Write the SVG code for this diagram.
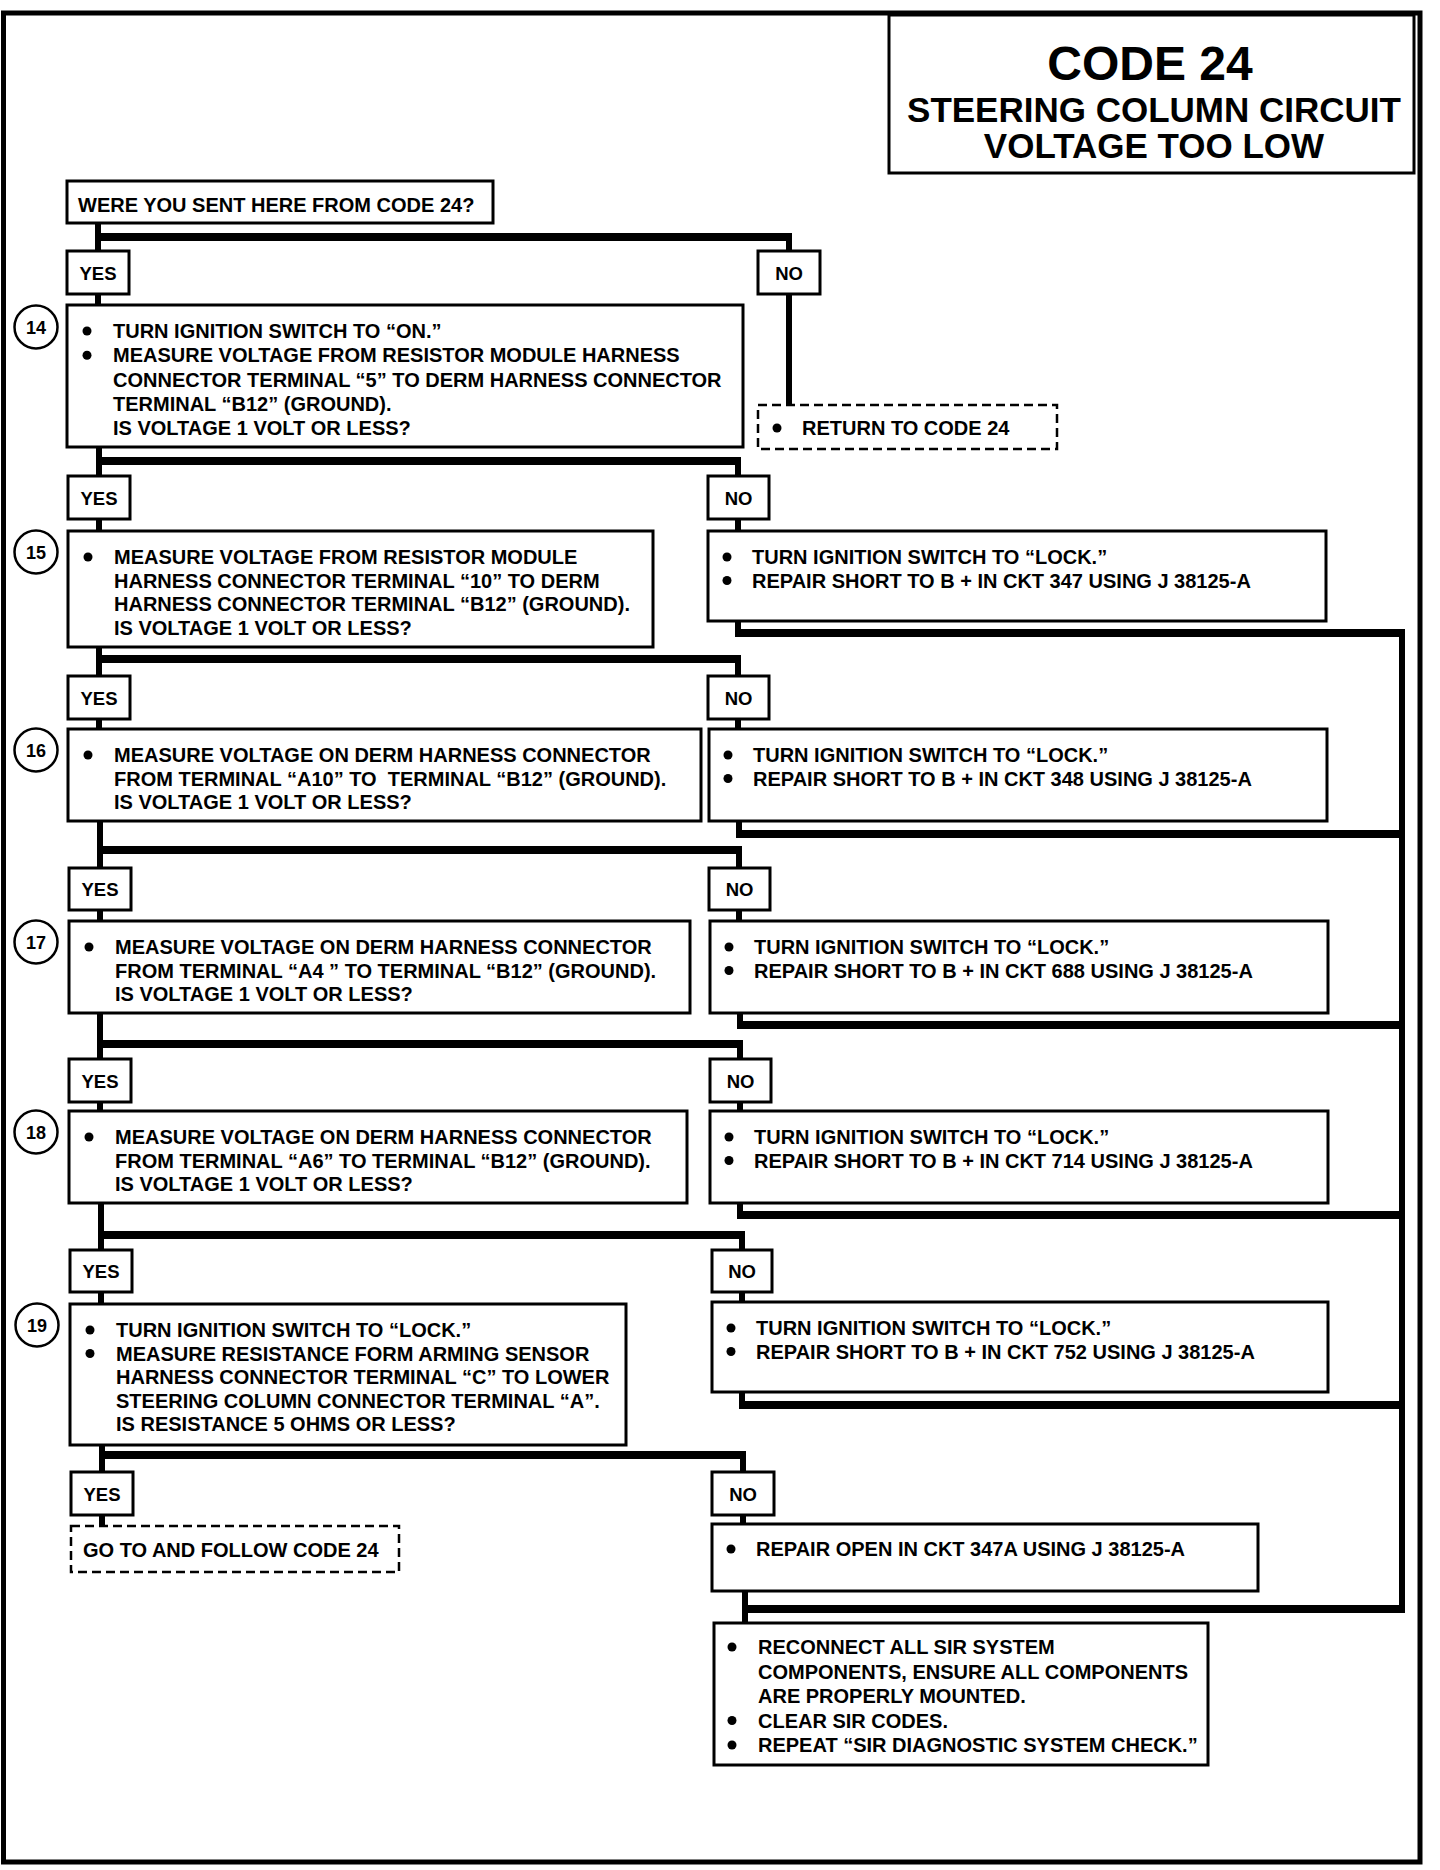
<svg xmlns="http://www.w3.org/2000/svg" width="1440" height="1870" viewBox="0 0 1440 1870">
<style>
text{font-family:"Liberation Sans",Arial,sans-serif;font-weight:bold;fill:#000}
.t{font-size:20px}
.q{font-size:20px}
.lbl{font-size:18.5px;text-anchor:middle}
.num{font-size:18px;text-anchor:middle}
.ttl{text-anchor:middle}
.box{fill:#fff;stroke:#000;stroke-width:3}
.dash{fill:#fff;stroke:#000;stroke-width:2.5;stroke-dasharray:9 5}
.circ{fill:#fff;stroke:#000;stroke-width:2.5}
.bul{fill:#000}
.bar{stroke:#000;stroke-width:8;fill:none}
.v{stroke:#000;stroke-width:6;fill:none}
</style>
<rect width="1440" height="1870" fill="#fff"/>
<g id="frame">
<rect x="3.5" y="13" width="1416.5" height="1849" fill="none" stroke="#000" stroke-width="5"/>
</g>
<g id="title">
<rect class="box" x="889" y="15" width="525" height="158"/>
<text class="ttl" x="1150" y="80" font-size="48">CODE 24</text>
<text class="ttl" x="1154" y="122" font-size="35">STEERING COLUMN CIRCUIT</text>
<text class="ttl" x="1154" y="158" font-size="35">VOLTAGE TOO LOW</text>
</g>
<g id="connectors">
<line class="v" x1="98" y1="223" x2="98" y2="251"/>
<line class="bar" x1="95" y1="237" x2="792" y2="237"/>
<line class="v" x1="789" y1="237" x2="789" y2="251"/>
<line class="v" x1="98" y1="294" x2="98" y2="305"/>
<line class="v" x1="789" y1="294" x2="789" y2="405"/>
<line class="v" x1="99" y1="447" x2="99" y2="476"/>
<line class="bar" x1="96" y1="461" x2="741" y2="461"/>
<line class="v" x1="738" y1="461" x2="738" y2="476"/>
<line class="v" x1="99" y1="519" x2="99" y2="531"/>
<line class="v" x1="738" y1="519" x2="738" y2="531"/>
<line class="v" x1="738" y1="621" x2="738" y2="633"/>
<line class="bar" x1="735" y1="633" x2="1405" y2="633"/>
<line class="v" x1="99" y1="647" x2="99" y2="676"/>
<line class="bar" x1="96" y1="659" x2="741" y2="659"/>
<line class="v" x1="738" y1="659" x2="738" y2="676"/>
<line class="v" x1="99" y1="719" x2="99" y2="729"/>
<line class="v" x1="738" y1="719" x2="738" y2="729"/>
<line class="v" x1="739" y1="821" x2="739" y2="834"/>
<line class="bar" x1="736" y1="834" x2="1405" y2="834"/>
<line class="v" x1="100" y1="821" x2="100" y2="868"/>
<line class="bar" x1="97" y1="850" x2="742" y2="850"/>
<line class="v" x1="739" y1="850" x2="739" y2="868"/>
<line class="v" x1="100" y1="910" x2="100" y2="921"/>
<line class="v" x1="739" y1="910" x2="739" y2="921"/>
<line class="v" x1="740" y1="1013" x2="740" y2="1025"/>
<line class="bar" x1="737" y1="1025" x2="1405" y2="1025"/>
<line class="v" x1="100" y1="1013" x2="100" y2="1059"/>
<line class="bar" x1="97" y1="1044" x2="743" y2="1044"/>
<line class="v" x1="740" y1="1044" x2="740" y2="1059"/>
<line class="v" x1="100" y1="1102" x2="100" y2="1111"/>
<line class="v" x1="740" y1="1102" x2="740" y2="1111"/>
<line class="v" x1="740" y1="1203" x2="740" y2="1215"/>
<line class="bar" x1="737" y1="1215" x2="1405" y2="1215"/>
<line class="v" x1="101" y1="1203" x2="101" y2="1250"/>
<line class="bar" x1="98" y1="1235" x2="745" y2="1235"/>
<line class="v" x1="742" y1="1235" x2="742" y2="1250"/>
<line class="v" x1="101" y1="1292" x2="101" y2="1304"/>
<line class="v" x1="742" y1="1292" x2="742" y2="1302"/>
<line class="v" x1="742" y1="1392" x2="742" y2="1405"/>
<line class="bar" x1="739" y1="1405" x2="1405" y2="1405"/>
<line class="v" x1="102" y1="1445" x2="102" y2="1472"/>
<line class="bar" x1="99" y1="1455" x2="746" y2="1455"/>
<line class="v" x1="743" y1="1455" x2="743" y2="1472"/>
<line class="v" x1="102" y1="1515" x2="102" y2="1526"/>
<line class="v" x1="743" y1="1515" x2="743" y2="1524"/>
<line class="v" x1="745" y1="1591" x2="745" y2="1623"/>
<line class="bar" x1="742" y1="1609" x2="1405" y2="1609"/>
<line class="v" x1="1402" y1="629" x2="1402" y2="1613"/>
</g>
<g id="q">
<rect class="box" x="67" y="181" width="426" height="42"/>
<text class="q" x="78" y="212">WERE YOU SENT HERE FROM CODE 24?</text>
</g>
<g id="yes1"><rect class="box" x="67" y="251" width="62" height="43"/><text class="lbl" x="98" y="280">YES</text></g>
<g id="no1"><rect class="box" x="758" y="251" width="62" height="43"/><text class="lbl" x="789" y="280">NO</text></g>
<g id="step14">
<circle class="circ" cx="36" cy="327" r="21.5"/><text class="num" x="36" y="333.5">14</text>
<rect class="box" x="67" y="305" width="676" height="142"/>
<circle class="bul" cx="87" cy="331" r="4.5"/><circle class="bul" cx="87" cy="355.3" r="4.5"/>
<text class="t" x="113" y="338">TURN IGNITION SWITCH TO “ON.”</text>
<text class="t" x="113" y="362.3">MEASURE VOLTAGE FROM RESISTOR MODULE HARNESS</text>
<text class="t" x="113" y="386.6">CONNECTOR TERMINAL “5” TO DERM HARNESS CONNECTOR</text>
<text class="t" x="113" y="410.9">TERMINAL “B12” (GROUND).</text>
<text class="t" x="113" y="435.2">IS VOLTAGE 1 VOLT OR LESS?</text>
</g>
<g id="ret">
<rect class="dash" x="758" y="405" width="299" height="44"/>
<circle class="bul" cx="777" cy="428" r="4.5"/>
<text class="t" x="802" y="435">RETURN TO CODE 24</text>
</g>
<g id="yes2"><rect class="box" x="68" y="476" width="62" height="43"/><text class="lbl" x="99" y="505">YES</text></g>
<g id="no2"><rect class="box" x="708" y="476" width="61" height="43"/><text class="lbl" x="738.5" y="505">NO</text></g>
<g id="step15">
<circle class="circ" cx="36" cy="552" r="21.5"/><text class="num" x="36" y="558.5">15</text>
<rect class="box" x="68" y="531" width="585" height="116"/>
<circle class="bul" cx="88" cy="557" r="4.5"/>
<text class="t" x="114" y="564">MEASURE VOLTAGE FROM RESISTOR MODULE</text>
<text class="t" x="114" y="587.5">HARNESS CONNECTOR TERMINAL “10” TO DERM</text>
<text class="t" x="114" y="611">HARNESS CONNECTOR TERMINAL “B12” (GROUND).</text>
<text class="t" x="114" y="634.5">IS VOLTAGE 1 VOLT OR LESS?</text>
</g>
<g id="fix15">
<rect class="box" x="708" y="531" width="618" height="90"/>
<circle class="bul" cx="727" cy="557" r="4.5"/><circle class="bul" cx="727" cy="580.5" r="4.5"/>
<text class="t" x="752" y="564">TURN IGNITION SWITCH TO “LOCK.”</text>
<text class="t" x="752" y="587.5">REPAIR SHORT TO B + IN CKT 347 USING J 38125-A</text>
</g>
<g id="yes3"><rect class="box" x="68" y="676" width="62" height="43"/><text class="lbl" x="99" y="705">YES</text></g>
<g id="no3"><rect class="box" x="708" y="676" width="61" height="43"/><text class="lbl" x="738.5" y="705">NO</text></g>
<g id="step16">
<circle class="circ" cx="36" cy="750" r="21.5"/><text class="num" x="36" y="756.5">16</text>
<rect class="box" x="68" y="729" width="633" height="92"/>
<circle class="bul" cx="88" cy="755" r="4.5"/>
<text class="t" x="114" y="762">MEASURE VOLTAGE ON DERM HARNESS CONNECTOR</text>
<text class="t" x="114" y="785.5" xml:space="preserve">FROM TERMINAL “A10” TO  TERMINAL “B12” (GROUND).</text>
<text class="t" x="114" y="809">IS VOLTAGE 1 VOLT OR LESS?</text>
</g>
<g id="fix16">
<rect class="box" x="709" y="729" width="618" height="92"/>
<circle class="bul" cx="728" cy="755" r="4.5"/><circle class="bul" cx="728" cy="778.5" r="4.5"/>
<text class="t" x="753" y="762">TURN IGNITION SWITCH TO “LOCK.”</text>
<text class="t" x="753" y="785.5">REPAIR SHORT TO B + IN CKT 348 USING J 38125-A</text>
</g>
<g id="yes4"><rect class="box" x="69" y="868" width="62" height="42"/><text class="lbl" x="100" y="896">YES</text></g>
<g id="no4"><rect class="box" x="709" y="868" width="61" height="42"/><text class="lbl" x="739.5" y="896">NO</text></g>
<g id="step17">
<circle class="circ" cx="36" cy="942" r="21.5"/><text class="num" x="36" y="948.5">17</text>
<rect class="box" x="69" y="921" width="621" height="92"/>
<circle class="bul" cx="89" cy="947" r="4.5"/>
<text class="t" x="115" y="954">MEASURE VOLTAGE ON DERM HARNESS CONNECTOR</text>
<text class="t" x="115" y="977.5" xml:space="preserve">FROM TERMINAL “A4 ” TO TERMINAL “B12” (GROUND).</text>
<text class="t" x="115" y="1001">IS VOLTAGE 1 VOLT OR LESS?</text>
</g>
<g id="fix17">
<rect class="box" x="710" y="921" width="618" height="92"/>
<circle class="bul" cx="729" cy="947" r="4.5"/><circle class="bul" cx="729" cy="970.5" r="4.5"/>
<text class="t" x="754" y="954">TURN IGNITION SWITCH TO “LOCK.”</text>
<text class="t" x="754" y="977.5">REPAIR SHORT TO B + IN CKT 688 USING J 38125-A</text>
</g>
<g id="yes5"><rect class="box" x="69" y="1059" width="62" height="43"/><text class="lbl" x="100" y="1088">YES</text></g>
<g id="no5"><rect class="box" x="710" y="1059" width="61" height="43"/><text class="lbl" x="740.5" y="1088">NO</text></g>
<g id="step18">
<circle class="circ" cx="36" cy="1132" r="21.5"/><text class="num" x="36" y="1138.5">18</text>
<rect class="box" x="69" y="1111" width="618" height="92"/>
<circle class="bul" cx="89" cy="1137" r="4.5"/>
<text class="t" x="115" y="1144">MEASURE VOLTAGE ON DERM HARNESS CONNECTOR</text>
<text class="t" x="115" y="1167.5">FROM TERMINAL “A6” TO TERMINAL “B12” (GROUND).</text>
<text class="t" x="115" y="1191">IS VOLTAGE 1 VOLT OR LESS?</text>
</g>
<g id="fix18">
<rect class="box" x="710" y="1111" width="618" height="92"/>
<circle class="bul" cx="729" cy="1137" r="4.5"/><circle class="bul" cx="729" cy="1160.5" r="4.5"/>
<text class="t" x="754" y="1144">TURN IGNITION SWITCH TO “LOCK.”</text>
<text class="t" x="754" y="1167.5">REPAIR SHORT TO B + IN CKT 714 USING J 38125-A</text>
</g>
<g id="yes6"><rect class="box" x="70" y="1250" width="62" height="42"/><text class="lbl" x="101" y="1278">YES</text></g>
<g id="no6"><rect class="box" x="712" y="1250" width="60" height="42"/><text class="lbl" x="742" y="1278">NO</text></g>
<g id="step19">
<circle class="circ" cx="37" cy="1325" r="21.5"/><text class="num" x="37" y="1331.5">19</text>
<rect class="box" x="70" y="1304" width="556" height="141"/>
<circle class="bul" cx="90" cy="1330" r="4.5"/><circle class="bul" cx="90" cy="1353.5" r="4.5"/>
<text class="t" x="116" y="1337">TURN IGNITION SWITCH TO “LOCK.”</text>
<text class="t" x="116" y="1360.5">MEASURE RESISTANCE FORM ARMING SENSOR</text>
<text class="t" x="116" y="1384">HARNESS CONNECTOR TERMINAL “C” TO LOWER</text>
<text class="t" x="116" y="1407.5">STEERING COLUMN CONNECTOR TERMINAL “A”.</text>
<text class="t" x="116" y="1431">IS RESISTANCE 5 OHMS OR LESS?</text>
</g>
<g id="fix19">
<rect class="box" x="712" y="1302" width="616" height="90"/>
<circle class="bul" cx="731" cy="1328" r="4.5"/><circle class="bul" cx="731" cy="1351.5" r="4.5"/>
<text class="t" x="756" y="1335">TURN IGNITION SWITCH TO “LOCK.”</text>
<text class="t" x="756" y="1358.5">REPAIR SHORT TO B + IN CKT 752 USING J 38125-A</text>
</g>
<g id="yes7"><rect class="box" x="71" y="1472" width="62" height="43"/><text class="lbl" x="102" y="1501">YES</text></g>
<g id="no7"><rect class="box" x="712" y="1472" width="62" height="43"/><text class="lbl" x="743" y="1501">NO</text></g>
<g id="goto">
<rect class="dash" x="71" y="1526" width="328" height="46"/>
<text class="t" x="83" y="1557">GO TO AND FOLLOW CODE 24</text>
</g>
<g id="open">
<rect class="box" x="712" y="1524" width="546" height="67"/>
<circle class="bul" cx="731" cy="1549" r="4.5"/>
<text class="t" x="756" y="1556">REPAIR OPEN IN CKT 347A USING J 38125-A</text>
</g>
<g id="final">
<rect class="box" x="714" y="1623" width="494" height="142"/>
<circle class="bul" cx="732" cy="1647" r="4.5"/><circle class="bul" cx="732" cy="1720.5" r="4.5"/><circle class="bul" cx="732" cy="1745" r="4.5"/>
<text class="t" x="758" y="1654">RECONNECT ALL SIR SYSTEM</text>
<text class="t" x="758" y="1678.5">COMPONENTS, ENSURE ALL COMPONENTS</text>
<text class="t" x="758" y="1703">ARE PROPERLY MOUNTED.</text>
<text class="t" x="758" y="1727.5">CLEAR SIR CODES.</text>
<text class="t" x="758" y="1752">REPEAT “SIR DIAGNOSTIC SYSTEM CHECK.”</text>
</g>
</svg>
